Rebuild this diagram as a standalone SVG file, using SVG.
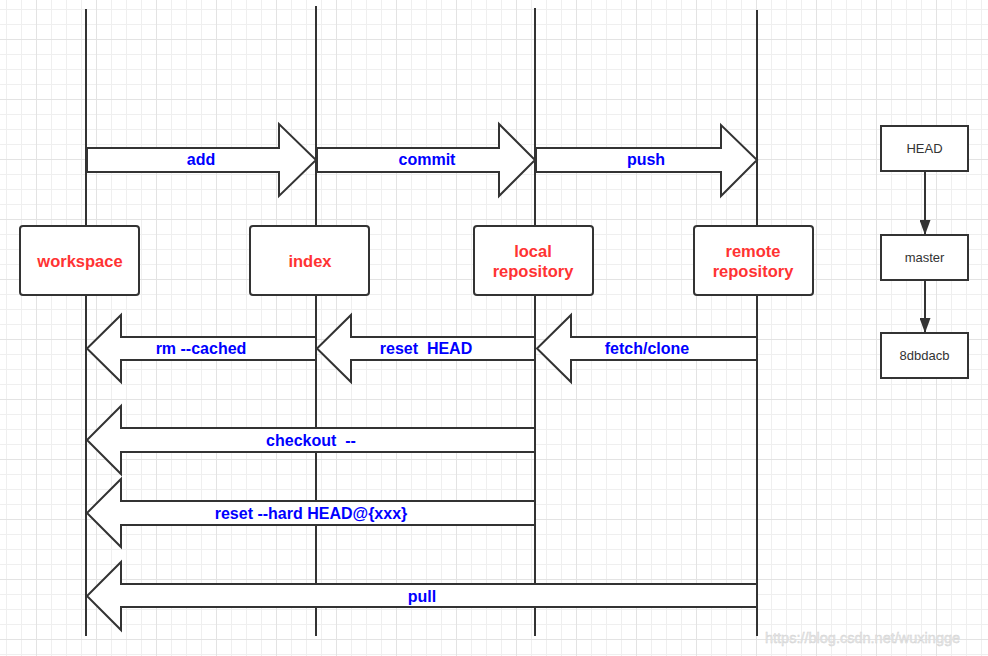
<svg xmlns="http://www.w3.org/2000/svg" width="988" height="656" viewBox="0 0 988 656">
<style>
.life{stroke:#333;stroke-width:2;fill:none}
.arr{fill:#fff;stroke:#333;stroke-width:2;stroke-linejoin:miter}
.lbl{font-family:"Liberation Sans",Arial,sans-serif;font-weight:bold;font-size:16px;fill:#0000ff;text-anchor:middle}
.box{fill:#fff;stroke:#333;stroke-width:2}
.name{font-family:"Liberation Sans",Arial,sans-serif;font-weight:bold;font-size:16.5px;fill:#ff3333;text-anchor:middle}
.small{font-family:"Liberation Sans",Arial,sans-serif;font-size:13px;fill:#333;text-anchor:middle}
</style>
<defs>
<pattern id="minor" patternUnits="userSpaceOnUse" x="6" y="9" width="15" height="15">
<path d="M0.5 0V15M0 0.5H15" stroke="#efefef" stroke-width="1" fill="none"/>
</pattern>
<pattern id="major" patternUnits="userSpaceOnUse" x="36" y="39" width="60" height="60">
<path d="M0.5 0V60M0 0.5H60" stroke="#e3e3e3" stroke-width="1" fill="none"/>
</pattern>
<marker id="tri" viewBox="0 0 15 11" refX="15" refY="5.5" markerWidth="15" markerHeight="11" orient="auto" markerUnits="userSpaceOnUse">
<path d="M0,0 L15,5.5 L0,11 Z" fill="#333"/>
</marker>
</defs>
<rect width="988" height="656" fill="#fff"/>
<rect width="988" height="656" fill="url(#minor)"/>
<rect width="988" height="656" fill="url(#major)"/>

<g id="lifelines">
<line class="life" x1="86" y1="9" x2="86" y2="636"/>
<line class="life" x1="316" y1="6" x2="316" y2="636"/>
<line class="life" x1="535" y1="8" x2="535" y2="636"/>
<line class="life" x1="757" y1="10" x2="757" y2="636"/>
</g>

<g id="connectors">
<g id="add"><path class="arr" d="M87,148 H279 V124 L316,160 L279,196 V172 H87 Z"/><text class="lbl" x="201" y="165">add</text></g>
<g id="commit"><path class="arr" d="M317,148 H499 V124 L535,160 L499,196 V172 H317 Z"/><text class="lbl" x="427" y="165">commit</text></g>
<g id="push"><path class="arr" d="M536,148 H721 V125 L757,160 L721,196 V172 H536 Z"/><text class="lbl" x="646" y="165">push</text></g>
<g id="rm"><path class="arr" d="M316,337 H121 V315 L87,348.5 L121,382 V360 H316 Z"/><text class="lbl" x="201" y="354">rm --cached</text></g>
<g id="resethead"><path class="arr" d="M535,337 H351 V315 L317,348.5 L351,382 V360 H535 Z"/><text class="lbl" x="426" y="354" xml:space="preserve">reset  HEAD</text></g>
<g id="fetch"><path class="arr" d="M757,337 H571 V315 L537,348.5 L571,382 V360 H757 Z"/><text class="lbl" x="647" y="354">fetch/clone</text></g>
<g id="checkout"><path class="arr" d="M535,428 H121 V406 L87,440 L121,474 V452 H535 Z"/><text class="lbl" x="311" y="446" xml:space="preserve">checkout  --</text></g>
<g id="resethard"><path class="arr" d="M535,501 H121 V479 L87,513 L121,547 V525 H535 Z"/><text class="lbl" x="311" y="519">reset --hard HEAD@{xxx}</text></g>
<g id="pull"><path class="arr" d="M757,584 H121 V562 L87,596 L121,630 V607 H757 Z"/><text class="lbl" x="422" y="602">pull</text></g>
<line x1="925" y1="172" x2="925" y2="235" stroke="#333" stroke-width="2" marker-end="url(#tri)"/>
<line x1="925" y1="281" x2="925" y2="333" stroke="#333" stroke-width="2" marker-end="url(#tri)"/>
</g>

<g id="workspace"><rect class="box" x="20" y="226" width="119" height="69" rx="3"/><text class="name" x="80" y="267">workspace</text></g>
<g id="index"><rect class="box" x="250" y="226" width="119" height="69" rx="3"/><text class="name" x="310" y="267">index</text></g>
<g id="local"><rect class="box" x="474" y="226" width="119" height="69" rx="3"/><text class="name" x="533" y="257">local</text><text class="name" x="533" y="277">repository</text></g>
<g id="remote"><rect class="box" x="694" y="226" width="119" height="69" rx="3"/><text class="name" x="753" y="257">remote</text><text class="name" x="753" y="277">repository</text></g>

<g id="HEAD"><rect class="box" x="881" y="126" width="87" height="45"/><text class="small" x="924.5" y="153">HEAD</text></g>
<g id="master"><rect class="box" x="881" y="235" width="87" height="45"/><text class="small" x="924.5" y="262">master</text></g>
<g id="commitid"><rect class="box" x="881" y="333" width="87" height="45"/><text class="small" x="924.5" y="360">8dbdacb</text></g>

<text x="765" y="643" font-family="Liberation Sans,Arial,sans-serif" font-size="14.5" fill="#e8e8e8" stroke="#d0d0d0" stroke-width="0.4">https://blog.csdn.net/wuxingge</text>
</svg>
